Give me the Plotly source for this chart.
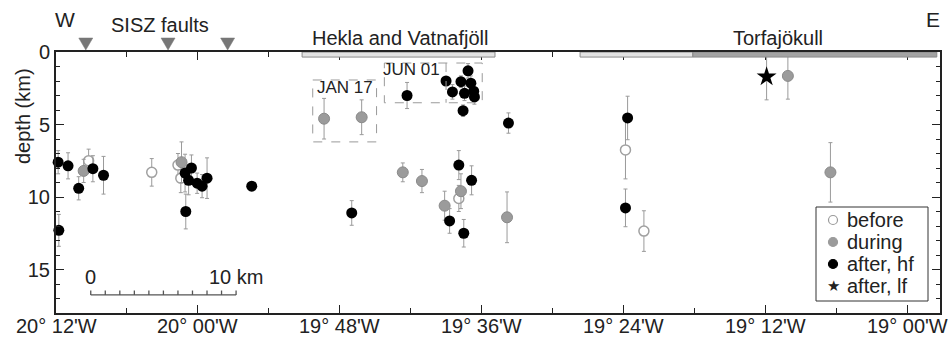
import math
import plotly.graph_objects as go

# ---------------- data (longitude in decimal degrees, negative = W; depth in km) ----------------
before_lon = [-20.154, -20.065, -20.028, -20.024, -19.632, -19.397, -19.371]
before_depth = [7.5, 8.3, 7.8, 8.7, 10.1, 6.75, 12.35]
before_err = [0.8, 0.95, 0.8, 1.0, 0.9, 2.0, 1.4]

during_lon = [-20.161, -20.023, -19.822, -19.769, -19.711, -19.684, -19.629, -19.652, -19.564, -19.168, -19.108]
during_depth = [8.2, 7.6, 4.6, 4.5, 8.3, 8.9, 9.6, 10.6, 11.4, 1.65, 8.3]
during_err = [0.8, 1.4, 1.4, 1.2, 0.65, 0.8, 1.2, 1.0, 1.75, 1.6, 2.05]

after_hf_lon = [-20.197, -20.183, -20.196, -20.168, -20.148, -20.133, -20.018, -20.009, -20.013, -20.001,
                -19.994, -19.987, -20.017, -19.924, -19.783, -19.705, -19.650, -19.641, -19.629, -19.619,
                -19.624, -19.615, -19.611, -19.610, -19.626, -19.562, -19.632, -19.614, -19.645, -19.625,
                -19.394, -19.397]
after_hf_depth = [7.6, 7.85, 12.3, 9.4, 8.05, 8.5, 8.35, 8.0, 8.85, 9.05,
                  9.25, 8.7, 11.0, 9.25, 11.1, 3.0, 2.0, 2.75, 2.05, 1.3,
                  2.85, 2.15, 2.7, 3.1, 4.05, 4.9, 7.8, 8.85, 11.65, 12.5,
                  4.55, 10.75]
after_hf_err = [0.8, 0.9, 1.1, 0.8, 0.9, 1.3, 1.3, 0.9, 1.0, 0.7,
                0.8, 1.4, 1.2, 0.3, 0.85, 0.9, 0.3, 0.5, 0.4, 0.5,
                0.5, 0.5, 0.5, 0.5, 0.4, 0.7, 1.0, 1.0, 0.85, 0.95,
                1.5, 1.3]

after_lf_lon = [-19.198]
after_lf_depth = [1.7]
after_lf_err = [1.6]

# SISZ fault longitudes (triangles)
sisz_fault_lon = [-20.158, -20.042, -19.958]

# volcanic-system extents along top axis (lon start, lon end)
hekla_regions = [(-19.853, -19.581), (-19.461, -19.302)]
torfa_regions = [(-19.302, -18.958)]

# axis ticks
x_tickvals = [-20.2, -20.0, -19.8, -19.6, -19.4, -19.2, -19.0]
x_ticktext = ["20° 12'W", "20° 00'W", "19° 48'W", "19° 36'W", "19° 24'W", "19° 12'W", "19° 00'W"]
x_minor_tickvals = [-20.1, -19.9, -19.7, -19.5, -19.3, -19.1]
y_tickvals = [0, 5, 10, 15]

legend_labels = ["before", "during", "after, hf", "after, lf"]

# ---------------- style ----------------
FONT = "Liberation Sans, Arial, Helvetica, sans-serif"
TXT = "#222222"
ERRC = "#9a9a9a"
X_RANGE = [-20.2, -18.9535]
Y_RANGE = [18, 0]
OFF = 0  # page body margin removed by post_script
W, H = 948 - OFF, 338 - OFF
ML, MR, MT, MB = 56 - OFF, 8, 52 - OFF, 25
PW, PH = W - ML - MR, H - MT - MB


def px_x(px):
    return (px - OFF - ML) / PW


def px_y(py):
    return (H - MB - (py - OFF)) / PH


fig = go.Figure()


def err(e):
    return dict(type="data", array=e, symmetric=True, color=ERRC, thickness=1, width=2)


open_marker = dict(symbol="circle", size=10, color="white", line=dict(color="#a0a0a0", width=1.5))
gray_marker = dict(symbol="circle", size=11, color="#9b9b9b", line=dict(color="#8a8a8a", width=1))
black_marker = dict(symbol="circle", size=11, color="black", line=dict(color="black", width=0))
star_marker = dict(symbol="star", size=15, color="black", line=dict(width=0))

fig.add_trace(go.Scatter(x=before_lon, y=before_depth, mode="markers", name=legend_labels[0],
                         error_y=err(before_err), marker=open_marker, cliponaxis=False))
fig.add_trace(go.Scatter(x=during_lon, y=during_depth, mode="markers", name=legend_labels[1],
                         error_y=err(during_err), marker=gray_marker, cliponaxis=False))
fig.add_trace(go.Scatter(x=after_hf_lon, y=after_hf_depth, mode="markers", name=legend_labels[2],
                         error_y=err(after_hf_err), marker=black_marker, cliponaxis=False))
fig.add_trace(go.Scatter(x=after_lf_lon, y=after_lf_depth, mode="markers", name=legend_labels[3],
                         error_y=err(after_lf_err), marker=star_marker, cliponaxis=False))

# scale bar (10 km at ~64 N)
km_per_deg = 111.32 * math.cos(math.radians(64.0))
sb_lon0, sb_depth, sb_len_km = -20.151, 16.75, 10
sx, sy = [], []
sx += [sb_lon0, sb_lon0 + sb_len_km / km_per_deg, None]
sy += [sb_depth, sb_depth, None]
for k in range(sb_len_km + 1):
    xx = sb_lon0 + k / km_per_deg
    sx += [xx, xx, None]
    sy += [sb_depth, sb_depth - 0.3, None]
fig.add_trace(go.Scatter(x=sx, y=sy, mode="lines", line=dict(color="#555555", width=1.3),
                         showlegend=False, hoverinfo="skip"))

shapes = []
for a, b in hekla_regions:
    shapes.append(dict(type="rect", xref="x", yref="y", x0=a, x1=b, y0=0.0, y1=0.35,
                       fillcolor="#e2e2e2", line=dict(color="#8a8a8a", width=1), layer="above"))
for a, b in torfa_regions:
    shapes.append(dict(type="rect", xref="x", yref="y", x0=a, x1=b, y0=0.0, y1=0.35,
                       fillcolor="#a3a3a3", line=dict(color="#8a8a8a", width=1), layer="above"))

# SISZ fault triangles (above the top axis)
tri_half = 7 / 11.82 / 60  # half width in degrees (~7 px)
tri_top, tri_bot = px_y(38), px_y(50)
for lon in sisz_fault_lon:
    shapes.append(dict(type="path", xref="x", yref="paper",
                       path=f"M {lon - tri_half},{tri_top} L {lon + tri_half},{tri_top} L {lon},{tri_bot} Z",
                       fillcolor="#777777", line=dict(color="#777777", width=0.5)))

# dashed boxes
dash_boxes = [(-19.838, -19.748, 1.93, 6.2), (-19.737, -19.599, 0.76, 3.5)]
for x0, x1, y0, y1 in dash_boxes:
    shapes.append(dict(type="rect", xref="x", yref="y", x0=x0, x1=x1, y0=y0, y1=y1,
                       line=dict(color="#9a9a9a", width=1, dash="dash")))
shapes.append(dict(type="line", xref="x", yref="y", x0=-19.650, x1=-19.650, y0=0.76, y1=3.5,
                   line=dict(color="#9a9a9a", width=1, dash="dash")))

# manual legend box
shapes.append(dict(type="rect", xref="paper", yref="paper", x0=px_x(816), x1=px_x(928),
                   y0=px_y(301), y1=px_y(207), fillcolor="white",
                   line=dict(color="#333333", width=1), layer="above"))
leg_rows = [220, 242, 264, 286]
leg_sym_x = px_x(833)
leg_markers = [("white", "#9a9a9a"), ("#9b9b9b", "#9b9b9b"), ("black", "black")]
for (fc, lc), ry in zip(leg_markers, leg_rows[:3]):
    shapes.append(dict(type="circle", xref="paper", yref="paper", xsizemode="pixel", ysizemode="pixel",
                       xanchor=leg_sym_x, yanchor=px_y(ry), x0=-4.5, x1=4.5, y0=-4.5, y1=4.5,
                       fillcolor=fc, line=dict(color=lc, width=1.2), layer="above"))

annotations = [
    dict(xref="x", yref="paper", x=-20.1875, y=px_y(19), text="W", font=dict(size=21)),
    dict(xref="x", yref="paper", x=-18.964, y=px_y(19), text="E", font=dict(size=21)),
    dict(xref="x", yref="paper", x=-20.0535, y=px_y(25), text="SISZ faults", font=dict(size=20)),
    dict(xref="x", yref="paper", x=-19.7152, y=px_y(38), text="Hekla and Vatnafjöll", font=dict(size=20)),
    dict(xref="x", yref="paper", x=-19.182, y=px_y(38), text="Torfajökull", font=dict(size=20)),
    dict(xref="x", yref="y", x=-19.7927, y=2.48, text="JAN 17", font=dict(size=17)),
    dict(xref="x", yref="y", x=-19.6983, y=1.24, text="JUN 01", font=dict(size=17)),
    dict(xref="x", yref="y", x=sb_lon0, y=15.5, text="0", font=dict(size=20)),
    dict(xref="x", yref="y", x=sb_lon0 + sb_len_km / km_per_deg, y=15.5, text="10 km", font=dict(size=20)),
    dict(xref="paper", yref="paper", x=px_x(23), y=px_y(116), text="depth (km)", textangle=-90,
         font=dict(size=20)),
    dict(xref="paper", yref="paper", x=leg_sym_x, y=px_y(leg_rows[3] - 1), text="★", font=dict(size=15)),
]
# x tick labels (placed as annotations so they sit close under the axis)
for tv, tt in zip(x_tickvals, x_ticktext):
    annotations.append(dict(xref="x", yref="paper", x=tv, y=px_y(326), text=tt, font=dict(size=20)))
for a in annotations:
    a.update(showarrow=False, xanchor="center", yanchor="middle")
    a["font"].update(family=FONT, color=TXT)
for lab, ry in zip(legend_labels, leg_rows):
    annotations.append(dict(xref="paper", yref="paper", x=px_x(845), y=px_y(ry), text=lab,
                            showarrow=False, xanchor="left", yanchor="middle",
                            font=dict(size=20, family=FONT, color=TXT)))

fig.update_layout(
    width=W, height=H,
    margin=dict(l=ML, r=MR, t=MT, b=MB, autoexpand=False),
    paper_bgcolor="white", plot_bgcolor="white",
    font=dict(family=FONT, size=20, color=TXT),
    shapes=shapes, annotations=annotations,
    showlegend=False,
)

fig.update_xaxes(
    range=X_RANGE, tickvals=x_tickvals, showticklabels=False, automargin=False,
    ticks="inside", ticklen=8, tickwidth=1, tickcolor="#222",
    showline=True, linewidth=2, linecolor="#222", mirror="allticks",
    showgrid=False, zeroline=False,
    minor=dict(tickvals=x_minor_tickvals, ticks="inside", ticklen=5,
               tickwidth=1, tickcolor="#222", showgrid=False),
)
fig.update_yaxes(
    range=Y_RANGE, tickvals=y_tickvals, automargin=False,
    ticks="inside", ticklen=8, tickwidth=1, tickcolor="#222",
    showline=True, linewidth=2, linecolor="#222", mirror="allticks",
    showgrid=False, zeroline=False,
    minor=dict(dtick=1, tick0=0, ticks="inside", ticklen=4, tickwidth=1, tickcolor="#222", showgrid=False),
    tickfont=dict(size=20, family=FONT, color=TXT),
)

fig.write_html("out.html", config={"displayModeBar": False},
               post_script="document.body.style.margin='0px';")
